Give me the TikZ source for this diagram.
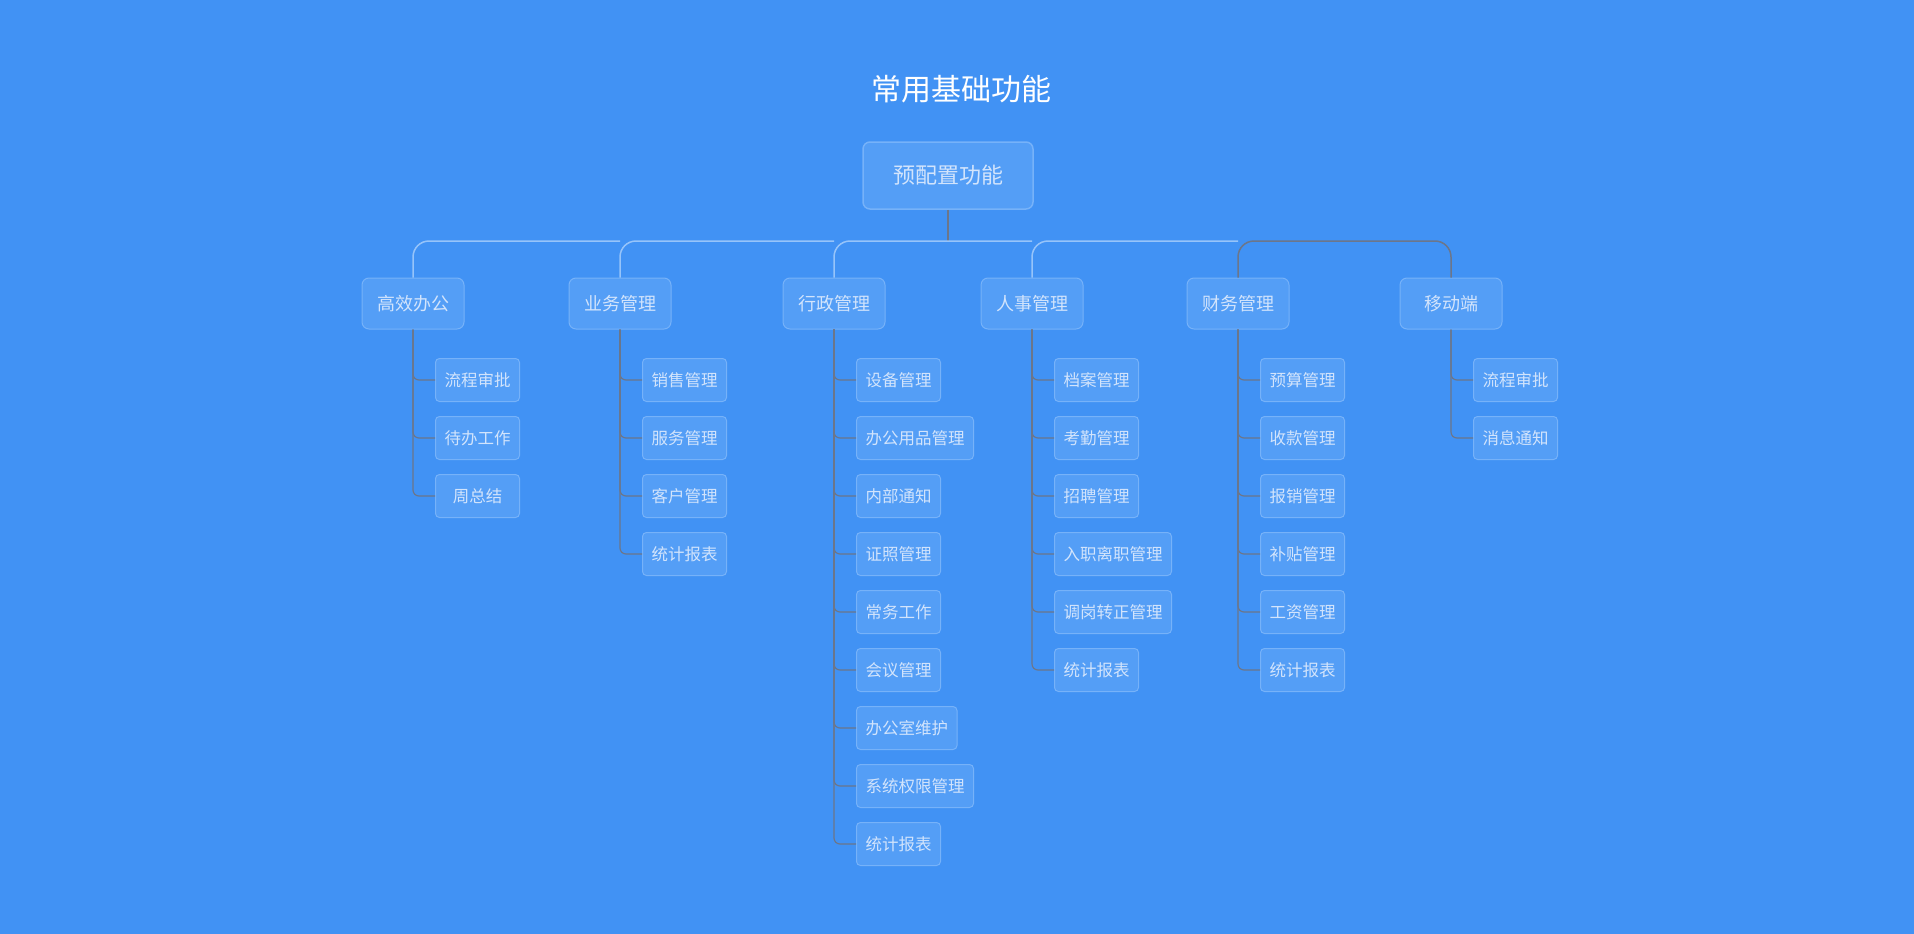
\documentclass[tikz,border=0pt]{standalone}
\usepackage{fontspec}
\newfontfamily\cjk{Noto Sans CJK SC}
\definecolor{bgblue}{RGB}{65,146,244}
\definecolor{boxfill}{RGB}{84,158,246}
\definecolor{boxdraw}{RGB}{118,178,249}
\definecolor{boxtext}{RGB}{210,228,252}
\definecolor{linelight}{RGB}{150,196,250}
\definecolor{linegray}{RGB}{108,118,138}

\begin{document}
\begin{tikzpicture}[
        x=1pt, y=-1pt,
        font=\cjk
    ]
    \tikzset{
        titlenode/.style = {text=white, font=\cjk\fontsize{30}{36}\selectfont},
        rootnode/.style = {rectangle, rounded corners=7pt, draw=boxdraw, line width=1.5pt, fill=boxfill, text=boxtext, minimum width=170pt, minimum height=67pt, font=\cjk\fontsize{22}{26}\selectfont},
        topnode/.style = {rectangle, rounded corners=7pt, draw=boxdraw, line width=1pt, fill=boxfill, text=boxtext, minimum width=102pt, minimum height=51pt, font=\cjk\fontsize{18}{22}\selectfont},
        leafnode/.style = {rectangle, rounded corners=4pt, draw=boxdraw, line width=1pt, fill=boxfill, text=boxtext, anchor=west, inner xsep=9pt, minimum width=84pt, minimum height=43pt, font=\cjk\fontsize{16.5}{20}\selectfont},
        edgel/.style = {-, line width=1.5pt, linelight, rounded corners=16pt},
        edgeg/.style = {-, line width=1.5pt, linegray, rounded corners=16pt},
        edgeleaf/.style = {-, line width=1.2pt, linegray, rounded corners=6pt},
    }
    \fill[bgblue] (0,0) rectangle (1914,934);
    \node[titlenode] at (961,89) (title) {常用基础功能};
    \node[rootnode] at (948,175.5) (root) {预配置功能};
    \coordinate (bus) at (948,241);
    %
    \node[topnode] at (413,303.5) (gx) {高效办公};
    \node[topnode] at (620,303.5) (yw) {业务管理};
    \node[topnode] at (834,303.5) (xz) {行政管理};
    \node[topnode] at (1032,303.5) (rs) {人事管理};
    \node[topnode] at (1238,303.5) (cw) {财务管理};
    \node[topnode] at (1451,303.5) (yd) {移动端};
    %
    \node[leafnode] at (435,380) (gx1) {流程审批};
    \node[leafnode] at (435,438) (gx2) {待办工作};
    \node[leafnode] at (435,496) (gx3) {周总结};
    %
    \node[leafnode] at (642,380) (yw1) {销售管理};
    \node[leafnode] at (642,438) (yw2) {服务管理};
    \node[leafnode] at (642,496) (yw3) {客户管理};
    \node[leafnode] at (642,554) (yw4) {统计报表};
    %
    \node[leafnode] at (856,380) (xz1) {设备管理};
    \node[leafnode] at (856,438) (xz2) {办公用品管理};
    \node[leafnode] at (856,496) (xz3) {内部通知};
    \node[leafnode] at (856,554) (xz4) {证照管理};
    \node[leafnode] at (856,612) (xz5) {常务工作};
    \node[leafnode] at (856,670) (xz6) {会议管理};
    \node[leafnode] at (856,728) (xz7) {办公室维护};
    \node[leafnode] at (856,786) (xz8) {系统权限管理};
    \node[leafnode] at (856,844) (xz9) {统计报表};
    %
    \node[leafnode] at (1054,380) (rs1) {档案管理};
    \node[leafnode] at (1054,438) (rs2) {考勤管理};
    \node[leafnode] at (1054,496) (rs3) {招聘管理};
    \node[leafnode] at (1054,554) (rs4) {入职离职管理};
    \node[leafnode] at (1054,612) (rs5) {调岗转正管理};
    \node[leafnode] at (1054,670) (rs6) {统计报表};
    %
    \node[leafnode] at (1260,380) (cw1) {预算管理};
    \node[leafnode] at (1260,438) (cw2) {收款管理};
    \node[leafnode] at (1260,496) (cw3) {报销管理};
    \node[leafnode] at (1260,554) (cw4) {补贴管理};
    \node[leafnode] at (1260,612) (cw5) {工资管理};
    \node[leafnode] at (1260,670) (cw6) {统计报表};
    %
    \node[leafnode] at (1473,380) (yd1) {流程审批};
    \node[leafnode] at (1473,438) (yd2) {消息通知};
    %
    \draw[edgeg, line width=2pt] (root.south) -- (bus);
    \draw[edgel] (gx.north) -- (gx.north |- bus) -- (yw.north |- bus);
    \draw[edgel] (yw.north) -- (yw.north |- bus) -- (xz.north |- bus);
    \draw[edgel] (xz.north) -- (xz.north |- bus) -- (rs.north |- bus);
    \draw[edgel] (rs.north) -- (rs.north |- bus) -- (cw.north |- bus);
    \draw[edgeg] (cw.north) -- (cw.north |- bus) -- (yd.north |- bus) -- (yd.north);
    %
    \draw[edgeleaf] (gx) |- (gx1);
    \draw[edgeleaf] (gx) |- (gx2);
    \draw[edgeleaf] (gx) |- (gx3);
    %
    \draw[edgeleaf] (yw) |- (yw1);
    \draw[edgeleaf] (yw) |- (yw2);
    \draw[edgeleaf] (yw) |- (yw3);
    \draw[edgeleaf] (yw) |- (yw4);
    %
    \draw[edgeleaf] (xz) |- (xz1);
    \draw[edgeleaf] (xz) |- (xz2);
    \draw[edgeleaf] (xz) |- (xz3);
    \draw[edgeleaf] (xz) |- (xz4);
    \draw[edgeleaf] (xz) |- (xz5);
    \draw[edgeleaf] (xz) |- (xz6);
    \draw[edgeleaf] (xz) |- (xz7);
    \draw[edgeleaf] (xz) |- (xz8);
    \draw[edgeleaf] (xz) |- (xz9);
    %
    \draw[edgeleaf] (rs) |- (rs1);
    \draw[edgeleaf] (rs) |- (rs2);
    \draw[edgeleaf] (rs) |- (rs3);
    \draw[edgeleaf] (rs) |- (rs4);
    \draw[edgeleaf] (rs) |- (rs5);
    \draw[edgeleaf] (rs) |- (rs6);
    %
    \draw[edgeleaf] (cw) |- (cw1);
    \draw[edgeleaf] (cw) |- (cw2);
    \draw[edgeleaf] (cw) |- (cw3);
    \draw[edgeleaf] (cw) |- (cw4);
    \draw[edgeleaf] (cw) |- (cw5);
    \draw[edgeleaf] (cw) |- (cw6);
    %
    \draw[edgeleaf] (yd) |- (yd1);
    \draw[edgeleaf] (yd) |- (yd2);
\end{tikzpicture}
\end{document}
